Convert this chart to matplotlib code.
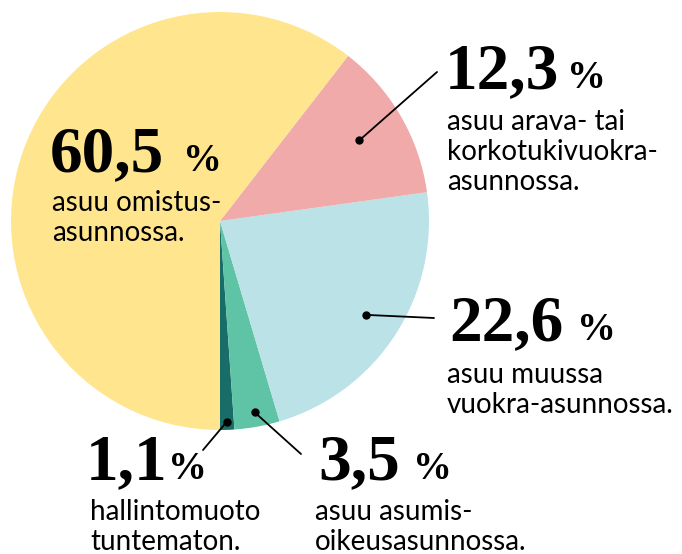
import numpy as np
import matplotlib.pyplot as plt

# shares, counter-clockwise from the bottom of the pie
shares = [1.1, 3.5, 22.6, 12.3, 60.5]
numbers = ['1,1', '3,5', '22,6', '12,3', '60,5']
texts = ['hallintomuoto\ntuntematon.',
         'asuu asumis-\noikeusasunnossa.',
         'asuu muussa\nvuokra-asunnossa.',
         'asuu arava- tai\nkorkotukivuokra-\nasunnossa.',
         'asuu omistus-\nasunnossa.']
colors = ['#196d68', '#5ec4a5', '#bae2e7', '#f0aaaa', '#ffe68e']

W, H = 682, 554
fig = plt.figure(figsize=(W / 100, H / 100), dpi=100)

def fx(x):
    return x / W

def fy(y):
    return 1 - y / H

# pie: centre (220, 221), radius 209 px
ax = fig.add_axes([fx(11), fy(430), 418 / W, 418 / H])
wedges, _ = ax.pie(shares, colors=colors, startangle=270, counterclock=True,
                   wedgeprops=dict(linewidth=0))
ax.set_xlim(-1, 1)
ax.set_ylim(-1, 1)
ax.set_aspect('equal')
ax.axis('off')

# label layout: number (x, baseline), % offset, body x / last-line baseline, dot radius, line end
layout = [
    dict(x=86, y=479, pct=82, tx=90, ty=550, r=0.96, end=(203, 450)),
    dict(x=318, y=479, pct=95, tx=315, ty=550, r=0.93, end=(301, 454)),
    dict(x=449, y=340, pct=128, tx=447, ty=413, r=0.83, end=(434, 318)),
    dict(x=445, y=88, pct=122, tx=447, ty=190, r=0.77, end=(437, 72)),
    dict(x=50, y=171, pct=133, tx=52, ty=241, r=None, end=None),
]

num_font = dict(family='Liberation Serif', weight='bold', size=47)
pct_font = dict(family='Liberation Serif', weight='bold', size=28)
body_font = dict(family='Lato', size=20)

for w, num, txt, L in zip(wedges, numbers, texts, layout):
    fig.text(fx(L['x']), fy(L['y']), num, va='baseline', ha='left', **num_font)
    fig.text(fx(L['x'] + L['pct']), fy(L['y']), '%', va='baseline', ha='left', **pct_font)
    # multi-line text with va='baseline' anchors on the last line
    fig.text(fx(L['tx']), fy(L['ty']), txt, va='baseline', ha='left',
             linespacing=1.2, **body_font)
    if L['r'] is not None:
        mid = np.deg2rad((w.theta1 + w.theta2) / 2)
        p = (L['r'] * np.cos(mid), L['r'] * np.sin(mid))
        ax.plot(*p, 'o', color='black', ms=5)
        ax.annotate('', xy=p, xytext=(L['end'][0], H - L['end'][1]),
                    textcoords='figure pixels',
                    arrowprops=dict(arrowstyle='-', color='black', lw=1.3,
                                    shrinkA=0, shrinkB=0))

fig.savefig('out.png', dpi=100)
